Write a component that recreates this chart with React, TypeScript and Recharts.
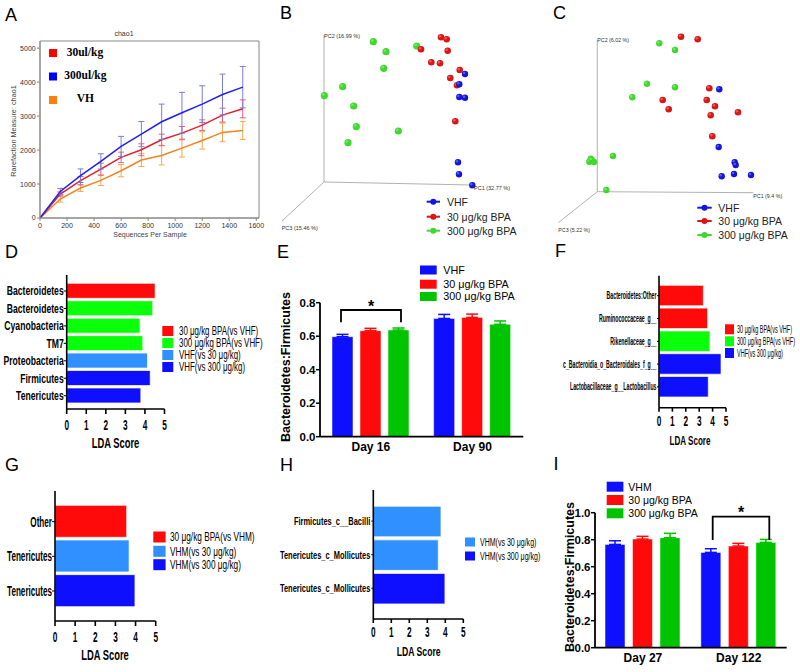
import React from 'react';
import {
  LineChart, Line, XAxis, YAxis, ErrorBar, ReferenceArea, ScatterChart, Scatter,
  ReferenceLine, BarChart, Bar, Cell,
} from 'recharts';

const FONT = '"Liberation Sans", Arial, Helvetica, sans-serif';
const SERIF = '"Liberation Serif", "Times New Roman", serif';

const RED = '#ff0a0a';
const GREEN = '#0aff0a';
const LBLUE = '#3090ff';
const BLUE = '#0f0fff';
const EGREEN = '#00c400';

// ---------- Panel A (rarefaction chao1) ----------
const seqDepth = [0, 150, 300, 450, 600, 750, 900, 1050, 1200, 1350, 1500];
const chao30 = [0, 706, 1098, 1440, 1784, 2009, 2303, 2499, 2734, 3028, 3214];
const chao30Err = [0, 60, 125, 175, 155, 175, 165, 195, 155, 205, 265];
const chao300 = [0, 780, 1245, 1666, 2107, 2470, 2832, 3097, 3352, 3636, 3851];
const chao300Err = [0, 90, 200, 225, 295, 370, 520, 600, 540, 600, 610];
const chaoVH = [0, 559, 882, 1107, 1392, 1705, 1842, 2058, 2283, 2519, 2577];
const chaoVHErr = [0, 90, 100, 150, 180, 190, 280, 265, 255, 275, 265];
const aXTicks = [0, 200, 400, 600, 800, 1000, 1200, 1400, 1600];
const aYTicks = [0, 1000, 2000, 3000, 4000, 5000];
const aLegend = ['30ul/kg', '300ul/kg', 'VH'];

// ---------- Panel B (PCoA, projected coordinates) ----------
const bVhf = [[141, 108], [135.3, 97.7], [135.3, 85], [141, 84.3], [134, 19.7], [135, 7.7], [148.3, -3.3]];
const b30 = [[117, 144.7], [122.7, 142.7], [97, 132.7], [123.7, 131.3], [107.3, 119.7], [116, 118.7], [135.7, 112], [126.3, 104], [133, 96.7], [131.3, 60.7]];
const b300 = [[49.3, 140.3], [62, 130.3], [59.7, 113.7], [92.7, 136], [18.7, 95.3], [0.3, 86.3], [29.7, 76], [32.3, 55.3], [74.3, 51], [24, 39.3]];
const bAxisEnds = [[0, 147], [148, -3], [-42, -39]];
const bAxisNames = ['PC2 (16.99 %)', 'PC1 (32.77 %)', 'PC3 (15.46 %)'];

// ---------- Panel C ----------
const cVhf = [[122, 102.4], [121.4, 44.7], [137.4, 29.4], [138.4, 26.7], [124.4, 15.4], [136.7, 17.7], [153.7, 16.7]];
const c30 = [[83.7, 155], [100.4, 152.4], [112, 103.4], [65.4, 91.7], [109.4, 91.7], [117.7, 85.4], [71.4, 82.4], [140.7, 79.4], [113.4, 76.4], [115, 55.4]];
const c300 = [[62, 148.4], [77.7, 141.7], [49.7, 108], [77.7, 104.4], [35, 94.4], [15.7, 35.7], [-6.6, 33], [-8, 30], [-3.3, 29.7], [-5.6, 31.7], [9, 1.7]];
const cAxisEnds = [[0, 151.7], [156, -1], [-39, -31]];
const cAxisNames = ['PC2 (6.02 %)', 'PC1 (9.4 %)', 'PC3 (5.22 %)'];
const pcoaLegend = ['VHF', '30 μg/kg BPA', '300 μg/kg BPA'];

// ---------- Panel D (LEfSe) ----------
const dTaxa = ['Bacteroidetes', 'Bacteroidetes', 'Cyanobacteria', 'TM7', 'Proteobacteria', 'Firmicutes', 'Tenericutes'];
const dLda = [4.52, 4.4, 3.75, 3.89, 4.13, 4.27, 3.79];
const dGroup = [0, 1, 1, 1, 2, 3, 3];
const dLegend = ['30 μg/kg BPA(vs VHF)', '300 μg/kg BPA(vs VHF)', 'VHF(vs 30 μg/kg)', 'VHF(vs 300 μg/kg)'];
const dColors = [RED, GREEN, LBLUE, BLUE];

// ---------- Panel E ----------
const eDays = ['Day 16', 'Day 90'];
const eVhf = [0.597, 0.706];
const eVhfSem = [0.014, 0.024];
const e30 = [0.633, 0.712];
const e30Sem = [0.014, 0.02];
const e300 = [0.637, 0.671];
const e300Sem = [0.012, 0.02];
const eLegend = ['VHF', '30 μg/kg BPA', '300 μg/kg BPA'];

// ---------- Panel F ----------
const fTaxa = ['Bacteroidetes:Other', 'Ruminococcaceae_g__', 'Rikenellaceae_g__', 'c_Bacteroidia_o_Bacteroidales_f_g__', 'Lactobacillaceae_g__Lactobacillus'];
const fLda = [3.31, 3.63, 3.8, 4.63, 3.68];
const fGroup = [0, 0, 1, 2, 2];
const fLegend = ['30 μg/kg BPA(vs VHF)', '300 μg/kg BPA(vs VHF)', 'VHF(vs 300 μg/kg)'];
const fColors = [RED, GREEN, BLUE];

// ---------- Panel G ----------
const gTaxa = ['Other', 'Tenericutes', 'Tenericutes'];
const gLda = [3.56, 3.68, 3.97];
const gGroup = [0, 1, 2];
const gLegend = ['30 μg/kg BPA(vs VHM)', 'VHM(vs 30 μg/kg)', 'VHM(vs 300 μg/kg)'];
const gColors = [RED, LBLUE, BLUE];

// ---------- Panel H ----------
const hTaxa = ['Firmicutes_c__Bacilli', 'Tenericutes_c_Mollicutes', 'Tenericutes_c_Mollicutes'];
const hLda = [3.76, 3.61, 3.98];
const hGroup = [0, 0, 1];
const hLegend = ['VHM(vs 30 μg/kg)', 'VHM(vs 300 μg/kg)'];
const hColors = [LBLUE, BLUE];

// ---------- Panel I ----------
const iDays = ['Day 27', 'Day 122'];
const iVhm = [0.765, 0.706];
const iVhmSem = [0.027, 0.027];
const i30 = [0.805, 0.753];
const i30Sem = [0.02, 0.02];
const i300 = [0.815, 0.78];
const i300Sem = [0.032, 0.022];
const iLegend = ['VHM', '30 μg/kg BPA', '300 μg/kg BPA'];

const ldaTicks = [0, 1, 2, 3, 4, 5];

// ---------- helpers ----------
const aData = seqDepth.map((x, i) => ({
  x, r30: chao30[i], r30e: chao30Err[i], r300: chao300[i], r300e: chao300Err[i], vh: chaoVH[i], vhe: chaoVHErr[i],
}));
const toPts = (arr: number[][]) => arr.map(([x, y]) => ({ x, y }));
const ldaData = (taxa: string[], lda: number[], group: number[], colors: string[]) =>
  taxa.map((t, i) => ({ key: 'k' + i, name: t, value: lda[i], color: colors[group[i]] }));
const ratioData = (days: string[], a: number[], ae: number[], b: number[], be: number[], c: number[], ce: number[]) =>
  days.map((d, i) => ({ day: d, a: a[i], ae: [0, ae[i]], b: b[i], be: [0, be[i]], c: c[i], ce: [0, ce[i]] }));

const sphere = (color: string, r: number) => (p: any) => (
  <g>
    <circle cx={p.cx} cy={p.cy} r={r} fill={color} />
    <circle cx={p.cx - r * 0.3} cy={p.cy - r * 0.3} r={r * 0.38} fill="#fff" opacity={0.3} />
  </g>
);

const catTick = (labels: string[], fs: number, sx: number) => (p: any) => (
  <text transform={`translate(${p.x},${p.y}) scale(${sx},1)`} textAnchor="end" dy="0.35em"
    fontSize={fs} fontWeight="bold" fontFamily={FONT} fill="#000">{labels[p.index]}</text>
);
const numTick = (fs: number, sx: number) => (p: any) => (
  <text transform={`translate(${p.x},${p.y}) scale(${sx},1)`} textAnchor="middle" dy="0.71em"
    fontSize={fs} fontWeight="bold" fontFamily={FONT} fill="#000">{p.payload.value}</text>
);
const boldY = (p: any) => (
  <text x={p.x} y={p.y} dy="0.35em" textAnchor="end" fontSize={11.5} fontWeight="bold" fontFamily={FONT} fill="#000">
    {Number(p.payload.value).toFixed(1)}
  </text>
);
const boldX = (p: any) => (
  <text x={p.x} y={p.y} dy="0.71em" textAnchor="middle" fontSize={12} fontWeight="bold" fontFamily={FONT} fill="#000">
    {p.payload.value}
  </text>
);

const AX = { stroke: '#000', strokeWidth: 1.6 };

const Place = ({ left, top, children }: any) => (
  <div style={{ position: 'absolute', left, top }}>{children}</div>
);

function LdaChart(props: any) {
  const { data, labels, w, h, margin, yW, xH, pad, barSize, yfs, ysx, yts, ytm, xts, xtm } = props;
  return (
    <BarChart layout="vertical" width={w} height={h} data={data} margin={margin} barSize={barSize}>
      <XAxis type="number" domain={[0, 5]} ticks={ldaTicks} interval={0} height={xH} tickSize={xts} tickMargin={xtm}
        axisLine={AX} tickLine={AX} tick={numTick(15, 0.55)} allowDataOverflow />
      <YAxis type="category" dataKey="key" width={yW} tickSize={yts} tickMargin={ytm} padding={pad} interval={0}
        axisLine={AX} tickLine={{ stroke: '#000', strokeWidth: 1 }} tick={catTick(labels, yfs, ysx)} />
      <Bar dataKey="value" isAnimationActive={false} stroke="rgba(255,255,255,0.7)" strokeWidth={1}>
        {data.map((d: any, i: number) => <Cell key={i} fill={d.color} />)}
      </Bar>
    </BarChart>
  );
}

function RatioChart(props: any) {
  const { data, w, h, margin, domain, ticks, barSize, barGap, cols } = props;
  return (
    <BarChart width={w} height={h} data={data} margin={margin} barSize={barSize} barGap={barGap}>
      <XAxis dataKey="day" height={20} tickSize={0} tickMargin={6} axisLine={{ stroke: '#000', strokeWidth: 1.8 }}
        tickLine={false} tick={boldX} interval={0} />
      <YAxis type="number" domain={domain} ticks={ticks} interval={0} width={45} tickSize={4} tickMargin={0.5}
        axisLine={{ stroke: '#000', strokeWidth: 1.8 }} tickLine={{ stroke: '#000', strokeWidth: 1.5 }} tick={boldY} allowDataOverflow />
      <Bar dataKey="a" fill={cols[0]} stroke="rgba(255,255,255,0.5)" isAnimationActive={false}>
        <ErrorBar dataKey="ae" width={6} stroke={cols[0]} strokeWidth={1.5} direction="y" />
      </Bar>
      <Bar dataKey="b" fill={cols[1]} stroke="rgba(255,255,255,0.5)" isAnimationActive={false}>
        <ErrorBar dataKey="be" width={6} stroke={cols[1]} strokeWidth={1.5} direction="y" />
      </Bar>
      <Bar dataKey="c" fill={cols[2]} stroke="rgba(255,255,255,0.5)" isAnimationActive={false}>
        <ErrorBar dataKey="ce" width={6} stroke={cols[2]} strokeWidth={1.5} direction="y" />
      </Bar>
    </BarChart>
  );
}

function Pcoa(props: any) {
  const { w, h, xd, yd, axes, vhf, g30, g300, rg } = props;
  return (
    <ScatterChart width={w} height={h} margin={{ top: 0, right: 0, bottom: 0, left: 0 }}>
      <XAxis type="number" dataKey="x" domain={xd} hide allowDataOverflow />
      <YAxis type="number" dataKey="y" domain={yd} hide allowDataOverflow />
      {axes.map((e: number[], i: number) => (
        <ReferenceLine key={i} segment={[{ x: 0, y: 0 }, { x: e[0], y: e[1] }]} stroke="#a8a8a8" strokeWidth={0.9} ifOverflow="visible" />
      ))}
      <Scatter data={toPts(g300)} shape={sphere('#3fd82c', rg)} isAnimationActive={false} />
      <Scatter data={toPts(g30)} shape={sphere('#dc1414', 3.3)} isAnimationActive={false} />
      <Scatter data={toPts(vhf)} shape={sphere('#1414dc', 3.2)} isAnimationActive={false} />
    </ScatterChart>
  );
}

const NT = ({ x, y, fs, sx = 1, anchor = 'start', bold = false, children, fill = '#000', family = FONT }: any) => (
  <text transform={`translate(${x},${y}) scale(${sx},1)`} textAnchor={anchor} fontSize={fs}
    fontWeight={bold ? 'bold' : 'normal'} fontFamily={family} fill={fill}>{children}</text>
);

export default function App() {
  const letters: [string, number, number][] = [
    ['A', 5, 20.5], ['B', 280, 19.3], ['C', 553, 19], ['D', 5, 257.7], ['E', 277, 257.7],
    ['F', 555, 256.7], ['G', 5, 471], ['H', 280, 471], ['I', 553.5, 470],
  ];
  const aCols = ['#ff0000', '#0000ff', '#ff7f0e'];
  const aLeg: [number, number, number][] = [[49, 49, 56], [49, 72.5, 79], [49, 96, 101.7]];
  const aTextX = [66.7, 64.3, 76.7];
  const pcoaCols = ['#1414dc', '#dc1414', '#3fd82c'];

  return (
    <div style={{ position: 'absolute', left: 0, top: 0, width: 800, height: 672, background: '#fff', overflow: 'hidden' }}>
      {/* A */}
      <Place left={0} top={0}>
        <LineChart width={270} height={245} data={aData} margin={{ left: 10, top: 41, right: 11, bottom: 7 }}>
          <XAxis dataKey="x" type="number" domain={[0, 1620]} ticks={aXTicks} interval={0} allowDataOverflow height={20}
            tickSize={3} tickMargin={2} stroke="#888" tick={{ fontSize: 7, fill: '#333', fontFamily: FONT }} />
          <YAxis type="number" domain={[0, 5210]} ticks={aYTicks} interval={0} allowDataOverflow width={30}
            tickSize={3} tickMargin={1.3} stroke="#888" tick={{ fontSize: 7, fill: '#333', fontFamily: FONT }} />
          <ReferenceArea x1={0} x2={1620} y1={0} y2={5210} fill="none" stroke="#888" strokeWidth={1} ifOverflow="visible" />
          <Line dataKey="vh" stroke="#f5821f" strokeWidth={1.5} dot={false} isAnimationActive={false}>
            <ErrorBar dataKey="vhe" width={3} stroke="#f5a850" strokeWidth={1} direction="y" />
          </Line>
          <Line dataKey="r30" stroke="#e51e2e" strokeWidth={1.5} dot={false} isAnimationActive={false}>
            <ErrorBar dataKey="r30e" width={3} stroke="#e0607a" strokeWidth={1} direction="y" />
          </Line>
          <Line dataKey="r300" stroke="#2020ee" strokeWidth={1.5} dot={false} isAnimationActive={false}>
            <ErrorBar dataKey="r300e" width={3} stroke="#7c7ce0" strokeWidth={1} direction="y" />
          </Line>
        </LineChart>
      </Place>

      {/* B */}
      <Place left={270} top={0}>
        <Pcoa w={270} h={240} xd={[-54, 216]} yd={[-58, 182]} axes={bAxisEnds} vhf={bVhf} g30={b30} g300={b300} rg={3.6} />
      </Place>
      {/* C */}
      <Place left={535} top={0}>
        <Pcoa w={265} h={240} xd={[-62.3, 202.7]} yd={[-48.3, 191.7]} axes={cAxisEnds} vhf={cVhf} g30={c30} g300={c300} rg={3.2} />
      </Place>

      {/* D */}
      <Place left={0} top={265}>
        <LdaChart data={ldaData(dTaxa, dLda, dGroup, dColors)} labels={dTaxa} w={175} h={170}
          margin={{ left: 6.7, top: 10, right: 10.5, bottom: 1 }} yW={60} xH={25} pad={{ top: 7.3, bottom: 4.6 }}
          barSize={15} yfs={12.5} ysx={0.69} yts={3} ytm={0} xts={5} xtm={5.3} />
      </Place>

      {/* E */}
      <Place left={275} top={290}>
        <RatioChart data={ratioData(eDays, eVhf, eVhfSem, e30, e30Sem, e300, e300Sem)} w={260} h={170}
          margin={{ left: 0, top: 12.7, right: 11.7, bottom: 3.3 }} domain={[0, 0.8]} ticks={[0, 0.2, 0.4, 0.6, 0.8]}
          barSize={21} barGap={7} cols={[BLUE, RED, EGREEN]} />
      </Place>

      {/* F */}
      <Place left={540} top={265}>
        <LdaChart data={ldaData(fTaxa, fLda, fGroup, fColors)} labels={fTaxa} w={195} h={170}
          margin={{ left: 0, top: 10.7, right: 9, bottom: 2.3 }} yW={119} xH={25} pad={{ top: 8.6, bottom: 9.4 }}
          barSize={20.5} yfs={10} ysx={0.52} yts={2} ytm={0.5} xts={4} xtm={3.4} />
      </Place>

      {/* G */}
      <Place left={0} top={480}>
        <LdaChart data={ldaData(gTaxa, gLda, gGroup, gColors)} labels={gTaxa} w={165} h={170}
          margin={{ left: 0, top: 11, right: 9.3, bottom: 2 }} yW={55} xH={27} pad={{ top: 13.3, bottom: 12.7 }}
          barSize={32} yfs={14} ysx={0.58} yts={3} ytm={0} xts={5} xtm={5.6} />
      </Place>

      {/* H */}
      <Place left={270} top={480}>
        <LdaChart data={ldaData(hTaxa, hLda, hGroup, hColors)} labels={hTaxa} w={205} h={170}
          margin={{ left: 0, top: 10, right: 11.7, bottom: 4 }} yW={103.3} xH={27} pad={{ top: 14.3, bottom: 14 }}
          barSize={30.5} yfs={11} ysx={0.68} yts={2} ytm={1} xts={4} xtm={3} />
      </Place>

      {/* I */}
      <Place left={550} top={500}>
        <RatioChart data={ratioData(iDays, iVhm, iVhmSem, i30, i30Sem, i300, i300Sem)} w={250} h={172}
          margin={{ left: 0, top: 12.7, right: 13.3, bottom: 4.3 }} domain={[0, 1.0]} ticks={[0, 0.2, 0.4, 0.6, 0.8, 1.0]}
          barSize={20} barGap={7.5} cols={[BLUE, RED, EGREEN]} />
      </Place>

      {/* annotations */}
      <svg width={800} height={672} style={{ position: 'absolute', left: 0, top: 0, pointerEvents: 'none' }}>
        {letters.map(([t, x, y]) => (
          <text key={t} x={x} y={y} fontSize={18} fontFamily={FONT} fill="#000">{t}</text>
        ))}

        {/* A texts */}
        <NT x={124} y={36} fs={7} anchor="middle" fill="#333">chao1</NT>
        <NT x={150} y={237} fs={7} anchor="middle" fill="#444">Sequences Per Sample</NT>
        <text transform="translate(16,131) rotate(-90)" textAnchor="middle" fontSize={7.3} fontFamily={FONT} fill="#444">Rarefaction Measure: chao1</text>
        {aLegend.map((t, i) => (
          <g key={t}>
            <rect x={aLeg[i][0]} y={aLeg[i][1]} width={8} height={8} fill={aCols[i]} />
            <NT x={aTextX[i]} y={aLeg[i][2]} fs={11.5} bold family={SERIF}>{t}</NT>
          </g>
        ))}

        {/* B texts */}
        <NT x={324} y={38} fs={5.5} fill="#333">{bAxisNames[0]}</NT>
        <NT x={474} y={189.5} fs={5.5} fill="#333">{bAxisNames[1]}</NT>
        <NT x={281.7} y={229.5} fs={5.5} fill="#333">{bAxisNames[2]}</NT>
        {pcoaLegend.map((t, i) => {
          const y = [201.7, 216.7, 230.7][i];
          return (
            <g key={'b' + t}>
              <line x1={426.7} x2={440} y1={y} y2={y} stroke={pcoaCols[i]} strokeWidth={2} />
              <circle cx={433.3} cy={y} r={3} fill={pcoaCols[i]} />
              <NT x={447} y={y + 3.8} fs={10.5} fill="#222">{t}</NT>
            </g>
          );
        })}

        {/* C texts */}
        <NT x={597.3} y={42.3} fs={5.3} fill="#333">{cAxisNames[0]}</NT>
        <NT x={753.3} y={198} fs={5.3} fill="#333">{cAxisNames[1]}</NT>
        <NT x={558.3} y={231.5} fs={5.3} fill="#333">{cAxisNames[2]}</NT>
        {pcoaLegend.map((t, i) => {
          const y = [207.7, 221, 235][i];
          return (
            <g key={'c' + t}>
              <line x1={697.3} x2={711.7} y1={y} y2={y} stroke={pcoaCols[i]} strokeWidth={2} />
              <circle cx={704.5} cy={y} r={3} fill={pcoaCols[i]} />
              <NT x={718.3} y={y + 3.8} fs={10.5} fill="#222">{t}</NT>
            </g>
          );
        })}

        {/* D legend + label */}
        {dLegend.map((t, i) => {
          const cy = 331 + i * 12;
          return (
            <g key={'d' + i}>
              <rect x={162.3} y={cy - 5} width={11} height={10} fill={dColors[i]} />
              <NT x={179} y={cy + 4.3} fs={12} sx={0.66}>{t}</NT>
            </g>
          );
        })}
        <NT x={115.5} y={448} fs={14} sx={0.67} bold anchor="middle">LDA Score</NT>

        {/* E legend, label, significance */}
        {eLegend.map((t, i) => {
          const cy = [270, 284.2, 296.5][i];
          return (
            <g key={'e' + i}>
              <rect x={420} y={cy - 4.5} width={16.7} height={9} fill={[BLUE, RED, EGREEN][i]} />
              <NT x={443.3} y={cy + 3.9} fs={10.8}>{t}</NT>
            </g>
          );
        })}
        <text transform="translate(289.5,367) rotate(-90)" textAnchor="middle" fontSize={12.5} fontWeight="bold" fontFamily={FONT}>Bacteroidetes:Firmicutes</text>
        <path d="M341 322.3 V310 H401 V322.3" fill="none" stroke="#000" strokeWidth={1.8} />
        <text x={371} y={312.2} textAnchor="middle" fontSize={16} fontWeight="bold" fontFamily={FONT}>*</text>

        {/* F legend + label */}
        {fLegend.map((t, i) => {
          const cy = [329.3, 341.3, 353][i];
          return (
            <g key={'f' + i}>
              <rect x={725} y={cy - 5} width={9} height={10} fill={fColors[i]} />
              <NT x={737} y={cy + 3.7} fs={11} sx={0.5}>{t}</NT>
            </g>
          );
        })}
        <NT x={690} y={445} fs={13} sx={0.62} bold anchor="middle">LDA Score</NT>

        {/* G legend + label */}
        {gLegend.map((t, i) => {
          const cy = [537, 551.3, 564.7][i];
          return (
            <g key={'g' + i}>
              <rect x={153.3} y={cy - 5.5} width={12.3} height={11} fill={gColors[i]} />
              <NT x={170} y={cy + 4.2} fs={12} sx={0.69}>{t}</NT>
            </g>
          );
        })}
        <NT x={105} y={660} fs={14} sx={0.67} bold anchor="middle">LDA Score</NT>

        {/* H legend + label */}
        {hLegend.map((t, i) => {
          const cy = [542, 556][i];
          return (
            <g key={'h' + i}>
              <rect x={465} y={cy - 4.5} width={10} height={9} fill={hColors[i]} />
              <NT x={480} y={cy + 3.8} fs={11} sx={0.64}>{t}</NT>
            </g>
          );
        })}
        <NT x={418.7} y={655.7} fs={13.5} sx={0.64} bold anchor="middle">LDA Score</NT>

        {/* I legend, label, significance */}
        {iLegend.map((t, i) => {
          const cy = [486.7, 500, 513.3][i];
          return (
            <g key={'i' + i}>
              <rect x={606.7} y={cy - 5} width={16.7} height={10} fill={[BLUE, RED, EGREEN][i]} />
              <NT x={628.3} y={cy + 3.8} fs={10.5}>{t}</NT>
            </g>
          );
        })}
        <text transform="translate(574,577) rotate(-90)" textAnchor="middle" fontSize={12.5} fontWeight="bold" fontFamily={FONT}>Bacteroidetes:Firmicutes</text>
        <path d="M712.7 540 V516.7 H769.3 V540" fill="none" stroke="#000" strokeWidth={1.8} />
        <text x={741} y={517.7} textAnchor="middle" fontSize={16} fontWeight="bold" fontFamily={FONT}>*</text>
      </svg>
    </div>
  );
}
